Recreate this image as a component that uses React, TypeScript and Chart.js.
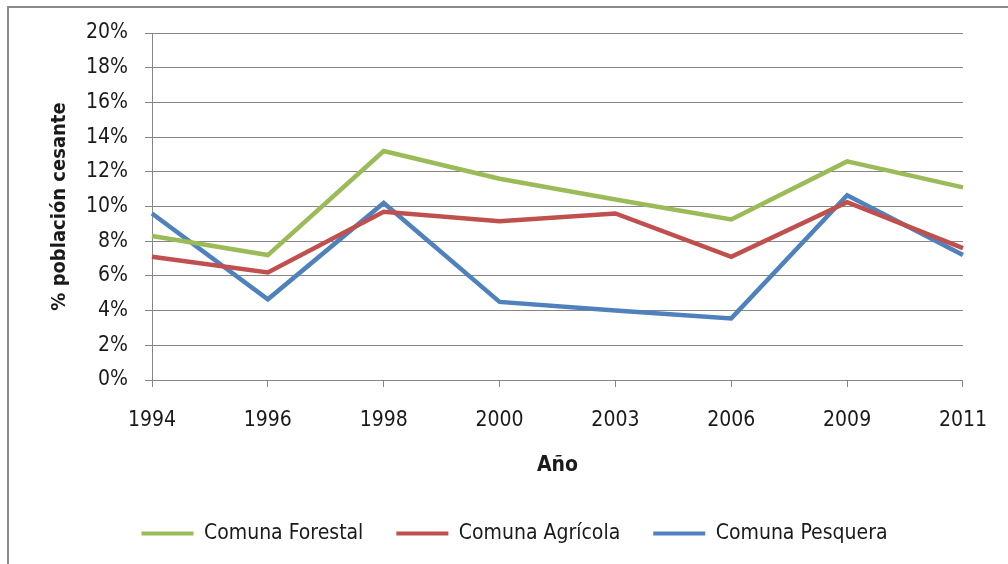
import React, { useEffect, useRef } from "react";
import { Chart, registerables } from "chart.js";

Chart.register(...registerables);

const years = ["1994", "1996", "1998", "2000", "2003", "2006", "2009", "2011"];
const forestal = [8.3, 7.2, 13.2, 11.6, 10.4, 9.25, 12.6, 11.1];
const agricola = [7.1, 6.2, 9.7, 9.15, 9.6, 7.1, 10.25, 7.6];
const pesquera = [9.6, 4.65, 10.2, 4.5, 4.0, 3.55, 10.65, 7.2];
const seriesNames = ["Comuna Forestal", "Comuna Agrícola", "Comuna Pesquera"];
const seriesColors = ["#9BBB59", "#C0504D", "#4F81BD"];
const yTicks = [0, 2, 4, 6, 8, 10, 12, 14, 16, 18, 20];

const FONT = "'Liberation Sans Narrow', 'DejaVu Sans Condensed', Lato, sans-serif";

const legendShift = {
  id: "legendShift",
  afterLayout(chart: any) {
    if (chart.legend) {
      chart.legend.left += 33;
      chart.legend.right += 33;
    }
  },
};

export default function App() {
  const ref = useRef<HTMLCanvasElement | null>(null);

  useEffect(() => {
    if (!ref.current) return;
    const values = [forestal, agricola, pesquera];
    const chart = new Chart(ref.current, {
      type: "line",
      data: {
        labels: years,
        datasets: values.map((d, i) => ({
          label: seriesNames[i],
          data: d,
          borderColor: seriesColors[i],
          backgroundColor: seriesColors[i],
          borderWidth: 4.5,
          pointRadius: 0,
          tension: 0,
          fill: false,
        })),
      },
      plugins: [legendShift],
      options: {
        animation: false,
        responsive: false,
        layout: { padding: { top: 33, right: 45, bottom: 10, left: 0 } },
        scales: {
          x: {
            grid: {
              display: true,
              drawOnChartArea: false,
              drawTicks: true,
              tickLength: 7,
              color: "#868686",
            },
            border: { color: "#868686", width: 1 },
            ticks: {
              color: "#1a1a1a",
              font: { family: FONT, size: 21 },
              padding: 21,
              maxRotation: 0,
              autoSkip: false,
            },
            title: {
              display: true,
              text: "Año",
              color: "#1a1a1a",
              font: { family: FONT, size: 21, weight: "bold" },
              padding: { top: 0, bottom: 12 },
            },
            afterFit: (s: any) => {
              s.height = 110;
            },
          },
          y: {
            min: 0,
            max: 20,
            afterBuildTicks: (s: any) => {
              s.ticks = yTicks.map((v) => ({ value: v }));
            },
            grid: {
              color: "#868686",
              tickLength: 7,
              lineWidth: 1,
            },
            border: { color: "#868686", width: 1 },
            ticks: {
              color: "#1a1a1a",
              font: { family: FONT, size: 21 },
              padding: 17,
              callback: (v: any) => v + "%",
            },
            title: {
              display: true,
              text: "% población cesante",
              color: "#1a1a1a",
              font: { family: FONT, size: 20, weight: "bold" },
              padding: { top: 48, bottom: 0 },
            },
            afterFit: (s: any) => {
              s.width = 152;
            },
          },
        },
        plugins: {
          legend: {
            position: "bottom",
            labels: {
              boxWidth: 52,
              boxHeight: 4,
              padding: 33,
              color: "#1a1a1a",
              font: { family: FONT, size: 21 },
              generateLabels: (c: any) =>
                Chart.defaults.plugins.legend.labels
                  .generateLabels(c)
                  .map((l: any) => ({ ...l, lineWidth: 0 })),
            },
          },
          tooltip: { enabled: false },
        },
      },
    });
    return () => chart.destroy();
  }, []);

  return (
    <div style={{ position: "absolute", left: 0, top: 0, width: 1008, height: 564, overflow: "hidden", background: "#fff" }}>
      <div
        style={{
          position: "absolute",
          left: 7,
          top: 6,
          width: 1010,
          height: 570,
          borderLeft: "2px solid #8a8a8a",
          borderTop: "2px solid #8a8a8a",
        }}
      />
      <canvas ref={ref} width={1008} height={564} style={{ position: "absolute", left: 0, top: 0 }} />
    </div>
  );
}
